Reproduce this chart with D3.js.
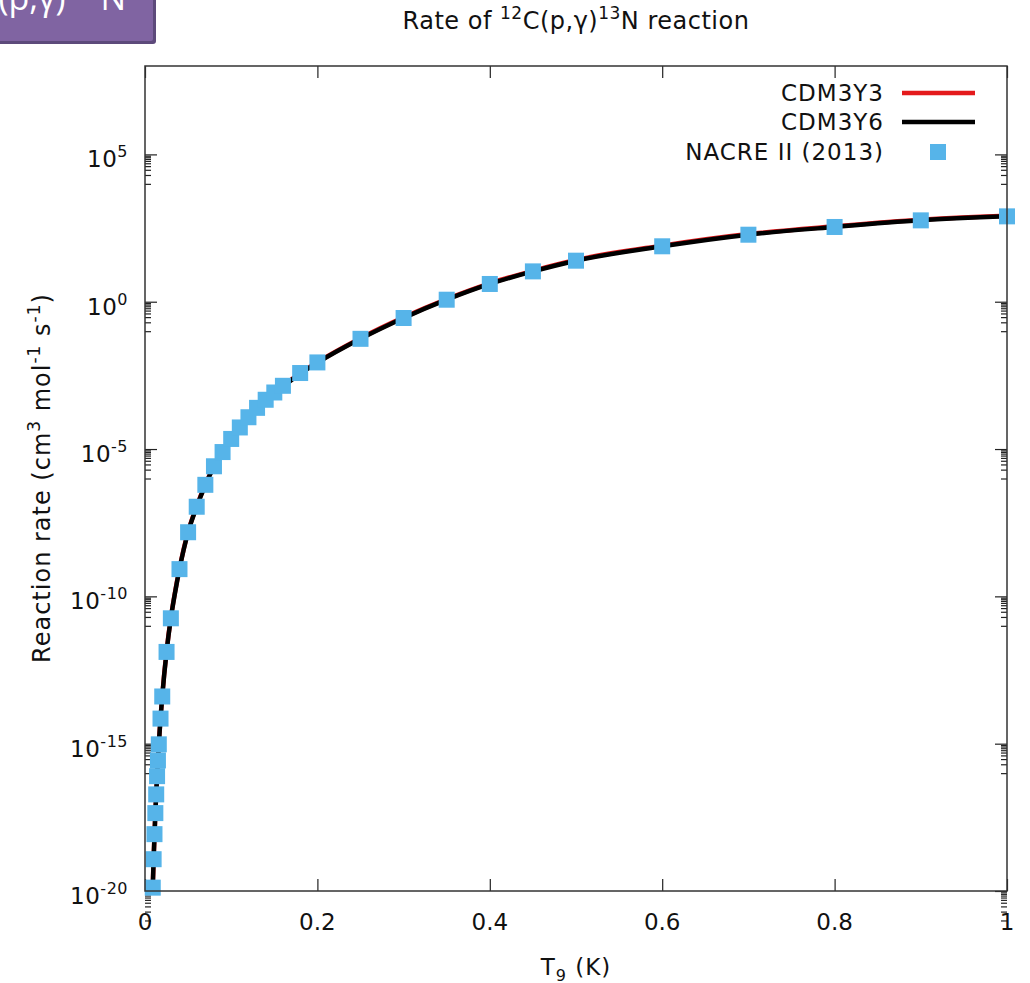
<!DOCTYPE html>
<html>
<head>
<meta charset="utf-8">
<script src="https://cdn.jsdelivr.net/npm/d3@7"></script>
<style>
  body { margin: 0; background: #fff; }
  svg text { font-family: "DejaVu Sans", Verdana, sans-serif; fill: #111; }
</style>
</head>
<body>
<div class="chart"></div>
<script>
// NACRE II (2013) tabulated rate
const nacreT9 = [0.009, 0.010, 0.011, 0.012, 0.013, 0.014, 0.015, 0.016, 0.018, 0.020,
  0.025, 0.030, 0.040, 0.050, 0.060, 0.070, 0.080, 0.090, 0.10, 0.11, 0.12, 0.13,
  0.14, 0.15, 0.16, 0.18, 0.20, 0.25, 0.30, 0.35, 0.40, 0.45, 0.50, 0.60, 0.70,
  0.80, 0.90, 1.0];
const nacreRate = [1.3e-20, 1.2e-19, 8.5e-19, 4.4e-18, 1.9e-17, 7.9e-17, 2.7e-16, 9.5e-16, 7.1e-15, 4.0e-14,
  1.3e-12, 1.8e-11, 8.4e-10, 1.5e-8, 1.1e-7, 6.1e-7, 2.6e-6, 7.9e-6, 2.2e-5, 5.4e-5, 1.2e-4, 2.5e-4,
  4.7e-4, 8.3e-4, 1.4e-3, 3.8e-3, 8.7e-3, 5.5e-2, 0.28, 1.17, 4.0, 10.7, 24.7, 76, 188,
  344, 577, 789];

// model curves (CDM3Y3 sits a hair above CDM3Y6)
const modelT9 = [0.008, 0.009, 0.010, 0.012, 0.014, 0.016, 0.018, 0.020, 0.025, 0.030,
  0.035, 0.040, 0.050, 0.060, 0.070, 0.080, 0.090, 0.10, 0.12, 0.14, 0.16, 0.18,
  0.20, 0.25, 0.30, 0.35, 0.40, 0.45, 0.50, 0.60, 0.70, 0.80, 0.90, 1.0];
const cdm3y3 = [1.0e-21, 1.4e-20, 1.26e-19, 4.6e-18, 8.3e-17, 1.0e-15, 7.5e-15, 4.2e-14, 1.37e-12, 1.9e-11,
  1.47e-10, 8.8e-10, 1.58e-8, 1.16e-7, 6.3e-7, 2.6e-6, 7.9e-6, 2.1e-5, 1.16e-4, 4.5e-4, 1.37e-3, 3.8e-3,
  8.9e-3, 5.8e-2, 0.295, 1.23, 4.2, 11.2, 26, 80, 197, 361, 606, 828];
const cdm3y6 = [9.5e-22, 1.3e-20, 1.2e-19, 4.4e-18, 7.9e-17, 9.5e-16, 7.1e-15, 4.0e-14, 1.3e-12, 1.8e-11,
  1.4e-10, 8.4e-10, 1.5e-8, 1.1e-7, 6.0e-7, 2.5e-6, 7.5e-6, 2.0e-5, 1.1e-4, 4.3e-4, 1.3e-3, 3.6e-3,
  8.5e-3, 5.5e-2, 0.28, 1.17, 4.0, 10.7, 24.7, 76, 188, 344, 577, 789];

const xTicks = [0, 0.2, 0.4, 0.6, 0.8, 1];
const xTickLabels = ['0', '0.2', '0.4', '0.6', '0.8', '1'];
const yExponents = [-20, -15, -10, -5, 0, 5];

const W = 1030, H = 983;
const margin = { top: 66, right: 23, bottom: 92, left: 145 };
const plotW = W - margin.left - margin.right;
const plotH = H - margin.top - margin.bottom;
const fs = 23, fsSup = 16;

const svg = d3.select('.chart').append('svg').attr('width', W).attr('height', H);

// slide badge peeking in at the top left corner
const badge = svg.append('g');
badge.append('rect').attr('x', -10).attr('y', -10).attr('width', 166).attr('height', 54).attr('rx', 3).attr('fill', '#5d4a7b');
badge.append('rect').attr('x', -10).attr('y', -10).attr('width', 163).attr('height', 51).attr('rx', 2).attr('fill', '#8064a2');
const bt = badge.append('text').attr('x', 126).attr('y', 10).attr('text-anchor', 'end')
  .style('font-family', '"Open Sans", sans-serif').style('font-size', '34px').style('fill', '#fff');
bt.append('tspan').text('(p,γ)');
bt.append('tspan').attr('dy', -18).attr('dx', 4).style('font-size', '27px').text('13');
bt.append('tspan').attr('dy', 18).text('N');

const g = svg.append('g').attr('transform', `translate(${margin.left},${margin.top})`);

const x = d3.scaleLinear().domain([0, 1]).range([0, plotW]);
const y = d3.scaleLog().domain([1e-20, 1e8]).range([plotH, 0]);

const majors = yExponents.map(e => Math.pow(10, e));
const minors = [];
yExponents.forEach(e => {
  for (let k = 1; k <= 9; k++) minors.push(k * Math.pow(10, e - 1));
});

function tickAxis(axis) {
  return sel => {
    sel.call(axis);
    sel.select('.domain').remove();
    sel.selectAll('text').remove();
    sel.selectAll('line').attr('stroke', '#222').attr('stroke-width', 1.2);
  };
}

// ticks on all four sides, pointing inward
g.append('g').call(tickAxis(d3.axisLeft(y).tickValues(majors).tickSize(-12)));
g.append('g').call(tickAxis(d3.axisLeft(y).tickValues(minors).tickSize(-6)));
g.append('g').attr('transform', `translate(${plotW},0)`).call(tickAxis(d3.axisRight(y).tickValues(majors).tickSize(-12)));
g.append('g').attr('transform', `translate(${plotW},0)`).call(tickAxis(d3.axisRight(y).tickValues(minors).tickSize(-6)));
g.append('g').attr('transform', `translate(0,${plotH})`).call(tickAxis(d3.axisBottom(x).tickValues(xTicks).tickSize(-12)));
g.append('g').call(tickAxis(d3.axisTop(x).tickValues(xTicks).tickSize(-12)));

// y tick labels with superscript exponents
const yl = g.append('g').selectAll('text').data(yExponents).enter().append('text')
  .attr('x', -17).attr('y', d => y(Math.pow(10, d)) + 13)
  .attr('text-anchor', 'end').style('font-size', fs + 'px').style('letter-spacing', '0.5px');
yl.append('tspan').text('10');
yl.append('tspan').attr('dy', -10).style('font-size', fsSup + 'px').text(d => String(d));

// x tick labels
g.append('g').selectAll('text').data(xTicks).enter().append('text')
  .attr('x', d => x(d)).attr('y', plotH + 39)
  .attr('text-anchor', 'middle').style('font-size', fs + 'px')
  .text((d, i) => xTickLabels[i]);

// curves
g.append('clipPath').attr('id', 'clip').append('rect').attr('width', plotW).attr('height', plotH);
const line = d3.line()
  .x(d => x(d[0]))
  .y(d => y(d[1]))
  .curve(d3.curveMonotoneX);

g.append('path').datum(d3.zip(modelT9, cdm3y3)).attr('clip-path', 'url(#clip)')
  .attr('d', line).attr('fill', 'none').attr('stroke', '#e41a1c').attr('stroke-width', 4.5);
g.append('path').datum(d3.zip(modelT9, cdm3y6)).attr('clip-path', 'url(#clip)')
  .attr('d', line).attr('fill', 'none').attr('stroke', '#000').attr('stroke-width', 4.5);

// NACRE II squares
const sq = 16;
g.selectAll('.pt').data(d3.zip(nacreT9, nacreRate)).enter().append('rect')
  .attr('class', 'pt')
  .attr('x', d => x(d[0]) - sq / 2).attr('y', d => y(d[1]) - sq / 2)
  .attr('width', sq).attr('height', sq).attr('fill', '#56b4e9');

// frame
g.append('rect').attr('width', plotW).attr('height', plotH)
  .attr('fill', 'none').attr('stroke', '#333').attr('stroke-width', 1.5);

// legend
const legend = g.append('g').style('font-size', fs + 'px').style('letter-spacing', '1px');
const lx = 884 - margin.left;
[['CDM3Y3', '#e41a1c'], ['CDM3Y6', '#000']].forEach((d, i) => {
  const ly = 93 - margin.top + i * 29;
  legend.append('text').attr('x', lx).attr('y', ly + 8).attr('text-anchor', 'end').text(d[0]);
  legend.append('line').attr('x1', 902 - margin.left).attr('x2', 975 - margin.left)
    .attr('y1', ly).attr('y2', ly).attr('stroke', d[1]).attr('stroke-width', 4.5);
});
legend.append('text').attr('x', lx).attr('y', 152 - margin.top + 8).attr('text-anchor', 'end').text('NACRE II (2013)');
legend.append('rect').attr('x', 938 - margin.left - sq / 2).attr('y', 152 - margin.top - sq / 2)
  .attr('width', sq).attr('height', sq).attr('fill', '#56b4e9');

// title
const title = svg.append('text').attr('x', 576).attr('y', 29).attr('text-anchor', 'middle')
  .style('font-size', '24px').style('letter-spacing', '0.5px');
title.append('tspan').text('Rate of ');
title.append('tspan').attr('dy', -10).style('font-size', '17px').text('12');
title.append('tspan').attr('dy', 10).text('C(p,γ)');
title.append('tspan').attr('dy', -10).style('font-size', '17px').text('13');
title.append('tspan').attr('dy', 10).text('N reaction');

// axis titles
const xt = svg.append('text').attr('x', 576).attr('y', 975).attr('text-anchor', 'middle')
  .style('font-size', fs + 'px').style('letter-spacing', '1px');
xt.append('tspan').text('T');
xt.append('tspan').attr('dy', 6).style('font-size', fsSup + 'px').text('9');
xt.append('tspan').attr('dy', -6).text(' (K)');

const yt = svg.append('text').attr('transform', 'translate(50,478) rotate(-90)').attr('text-anchor', 'middle')
  .style('font-size', '24px').style('letter-spacing', '1px');
yt.append('tspan').text('Reaction rate (cm');
yt.append('tspan').attr('dy', -10).style('font-size', '17px').text('3');
yt.append('tspan').attr('dy', 10).text(' mol');
yt.append('tspan').attr('dy', -10).style('font-size', '17px').text('-1');
yt.append('tspan').attr('dy', 10).text(' s');
yt.append('tspan').attr('dy', -10).style('font-size', '17px').text('-1');
yt.append('tspan').attr('dy', 10).text(')');
</script>
</body>
</html>
